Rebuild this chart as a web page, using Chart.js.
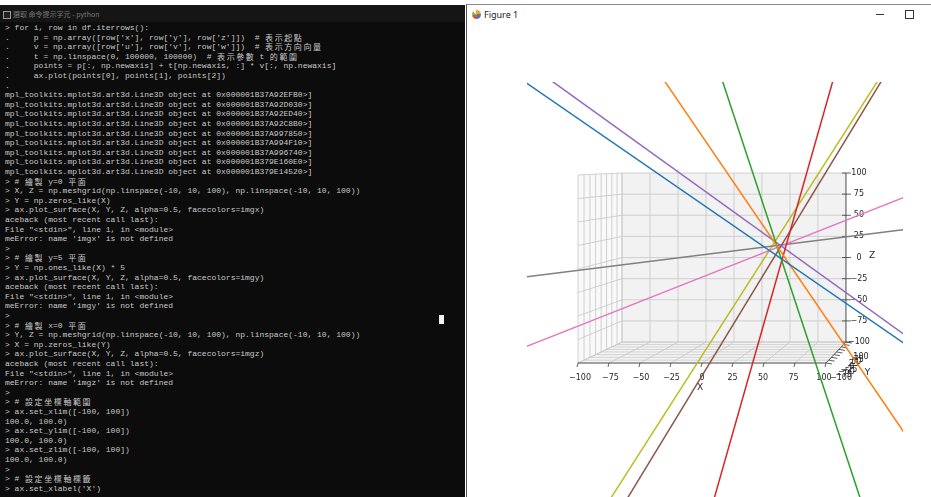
<!DOCTYPE html>
<html>
<head>
<meta charset="utf-8">
<script src="https://cdn.jsdelivr.net/npm/chart.js@4/dist/chart.umd.min.js"></script>
<style>
  html, body { margin: 0; padding: 0; }
  body { width: 931px; height: 497px; overflow: hidden; background: #ffffff; position: relative; }
  #term { position: absolute; left: 0; top: 5px; width: 465px; height: 492px; background: #0c0c0c; overflow: hidden; }
  #termTitle { position: absolute; left: 0; top: 0; width: 465px; height: 17px; background: #151515; }
  #termTitle .ico { position: absolute; left: 3px; top: 6px; width: 6px; height: 6px; border: 1px solid #9a9a9a; background: #222; }
  #termTitle .txt { position: absolute; left: 13px; top: 3px; font: 7px "Noto Sans CJK TC", "Noto Sans", sans-serif; color: #7a7a7a; white-space: pre; line-height: 12px; }
  #termText { position: absolute; left: 5px; top: 0; width: 460px; height: 492px; }
  #termText .ln { position: absolute; left: 0; height: 10px; overflow: visible; margin: 0;
                  font: 8px "Liberation Mono", "DejaVu Sans Mono", monospace; line-height: 10px; color: #c8c8c8; white-space: pre; }
  #termText .w { display: inline-block; width: 9.6px; height: 10px; line-height: 10px; vertical-align: top; text-align: center;
                 font-family: "Noto Sans CJK TC", sans-serif; font-size: 8px; }
  #cursor { position: absolute; left: 439px; top: 310px; width: 5px; height: 9px; background: #f2f2f2; }
  #fig { position: absolute; left: 466px; top: 4px; width: 465px; height: 493px; background: #ffffff; border-top: 1px solid #8a8a8a; border-left: 1px solid #555; }
  #figTitle { position: absolute; left: 17px; top: 3px; font: 9px "Noto Sans", "DejaVu Sans", sans-serif; color: #1a1a1a; }
  #figIcon { position: absolute; left: 5px; top: 5px; width: 9px; height: 9px; border-radius: 50%;
             background: conic-gradient(#f5a623 0 25%, #3a7bd5 25% 50%, #e94e3c 50% 70%, #7cc242 70% 85%, #eeeeee 85% 100%); }
  #figMin { position: absolute; left: 409px; top: 9px; width: 8px; height: 1px; background: #333; }
  #figMax { position: absolute; left: 438px; top: 5px; width: 7px; height: 7px; border: 1px solid #333; }
  #chartCanvas { position: absolute; left: 467px; top: 30px; }
</style>
</head>
<body>
<div id="term">
  <div id="termTitle"><div class="ico"></div><div class="txt">選取 命令提示字元 - python</div></div>
  <div id="termText"></div>
  <div id="cursor"></div>
</div>
<div id="fig">
  <div id="figIcon"></div>
  <div id="figTitle">Figure 1</div>
  <div id="figMin"></div>
  <div id="figMax"></div>
</div>
<canvas id="chartCanvas" width="464" height="467" style="width:464px;height:467px"></canvas>
<script>
// Line3D handles returned by ax.plot, one per plotted line
const lineIds = ['0x000001B37A92EFB0', '0x000001B37A92D030', '0x000001B37A92ED40',
                 '0x000001B37A92C8B0', '0x000001B37A997850', '0x000001B37A994F10',
                 '0x000001B37A996740', '0x000001B379E160E0', '0x000001B379E14520'];

// Projected end points of each line (view plane units: front face spans -100..100)
const startU = [-146.8, -33.5,   14.9,  106.9, -127.9,  147.7, -146.8, -146.8,  144.8];
const startW = [ 202.6, 206.4,  206.4,  206.4,  206.4,  206.4,  -85.2,   -9.3,  206.4];
const endU   = [ 167.7, 167.7,  129.4,    8.3,  167.7,  -63.5,  167.7,  167.7,  -77.1];
const endW   = [ -83.4, -183.1, -251.1, -251.1, -74.1, -251.1,   78.7,   42.6, -251.1];

// Axis ticks and labels (limits set to [-100, 100] on every axis)
const xTicks = [-100, -75, -50, -25, 0, 25, 50, 75, 100];
const yTicks = [-100, -75, -50, -25, 0, 25, 50, 75, 100];
const zTicks = [-100, -75, -50, -25, 0, 25, 50, 75, 100];
const axisTitles = ['X', 'Y', 'Z'];

// matplotlib default colour cycle
const palette = ['#1f77b4', '#ff7f0e', '#2ca02c', '#d62728', '#9467bd',
                 '#8c564b', '#e377c2', '#7f7f7f', '#bcbd22'];

// ---- console session text ----
const termLines = [
  "> for i, row in df.iterrows():",
  ".     p = np.array([row['x'], row['y'], row['z']])  # 表示起點",
  ".     v = np.array([row['u'], row['v'], row['w']])  # 表示方向向量",
  ".     t = np.linspace(0, 100000, 100000)  # 表示參數 t 的範圍",
  ".     points = p[:, np.newaxis] + t[np.newaxis, :] * v[:, np.newaxis]",
  ".     ax.plot(points[0], points[1], points[2])",
  ".",
  ...lineIds.map(id => "mpl_toolkits.mplot3d.art3d.Line3D object at " + id + ">]"),
  "> # 繪製 y=0 平面",
  "> X, Z = np.meshgrid(np.linspace(-10, 10, 100), np.linspace(-10, 10, 100))",
  "> Y = np.zeros_like(X)",
  "> ax.plot_surface(X, Y, Z, alpha=0.5, facecolors=imgx)",
  "aceback (most recent call last):",
  "File \"<stdin>\", line 1, in <module>",
  "meError: name 'imgx' is not defined",
  ">",
  "> # 繪製 y=5 平面",
  "> Y = np.ones_like(X) * 5",
  "> ax.plot_surface(X, Y, Z, alpha=0.5, facecolors=imgy)",
  "aceback (most recent call last):",
  "File \"<stdin>\", line 1, in <module>",
  "meError: name 'imgy' is not defined",
  ">",
  "> # 繪製 x=0 平面",
  "> Y, Z = np.meshgrid(np.linspace(-10, 10, 100), np.linspace(-10, 10, 100))",
  "> X = np.zeros_like(Y)",
  "> ax.plot_surface(X, Y, Z, alpha=0.5, facecolors=imgz)",
  "aceback (most recent call last):",
  "File \"<stdin>\", line 1, in <module>",
  "meError: name 'imgz' is not defined",
  ">",
  "> # 設定坐標軸範圍",
  "> ax.set_xlim([-100, 100])",
  "100.0, 100.0)",
  "> ax.set_ylim([-100, 100])",
  "100.0, 100.0)",
  "> ax.set_zlim([-100, 100])",
  "100.0, 100.0)",
  ">",
  "> # 設定坐標軸標籤",
  "> ax.set_xlabel('X')"
];

// one row per console line; wide (CJK) characters occupy two columns
const esc = s => s.replace(/&/g, '&amp;').replace(/</g, '&lt;').replace(/>/g, '&gt;');
const rowPitch = 9.6, firstRowTop = 18;
document.getElementById('termText').innerHTML = termLines.map((line, i) =>
  '<div class="ln" style="top:' + (firstRowTop + i * rowPitch).toFixed(2) + 'px">' +
  Array.from(line).map(ch => ch.charCodeAt(0) > 0x2e80 ? '<span class="w">' + ch + '</span>' : esc(ch)).join('') +
  '</div>'
).join('');

// ---- 3D axes box drawn through the chart's own scales ----
const box3d = {
  id: 'box3d',
  beforeDatasetsDraw(chart) {
    const { ctx } = chart;
    const sx = chart.scales.x, sy = chart.scales.y;
    const backRatio = 0.9;
    // perspective projection of a data point (x, y, z) onto the view plane
    const P = (x, y, z) => {
      const t = (y + 100) / 200;
      const a = 1 - t, b = t / backRatio;
      const u = (a * x + b * (25.8 + 0.903 * x)) / (a + b);
      const w = (a * z + b * (12.2 + 0.899 * z)) / (a + b);
      return [sx.getPixelForValue(u), sy.getPixelForValue(w)];
    };
    const poly = (pts, fill) => {
      ctx.beginPath();
      pts.forEach((p, i) => i ? ctx.lineTo(p[0], p[1]) : ctx.moveTo(p[0], p[1]));
      ctx.closePath();
      ctx.fillStyle = fill;
      ctx.fill();
    };
    const seg = (p, q) => { ctx.moveTo(p[0], p[1]); ctx.lineTo(q[0], q[1]); };

    ctx.save();
    // panes
    poly([P(-100, -100, -100), P(-100, 100, -100), P(-100, 100, 100), P(-100, -100, 100)], '#f9f9f9');
    poly([P(-100, 100, -100), P(100, 100, -100), P(100, 100, 100), P(-100, 100, 100)], '#f2f2f2');
    poly([P(-100, -100, -100), P(100, -100, -100), P(100, 100, -100), P(-100, 100, -100)], '#f5f5f5');

    // grid
    ctx.beginPath();
    ctx.strokeStyle = '#c6c6c6';
    ctx.lineWidth = 0.8;
    xTicks.forEach(x => { seg(P(x, 100, -100), P(x, 100, 100)); seg(P(x, -100, -100), P(x, 100, -100)); });
    zTicks.forEach(z => { seg(P(-100, 100, z), P(100, 100, z)); seg(P(-100, -100, z), P(-100, 100, z)); });
    yTicks.forEach(y => { seg(P(-100, y, -100), P(-100, y, 100)); seg(P(-100, y, -100), P(100, y, -100)); });
    ctx.stroke();

    // axis lines and tick marks
    ctx.beginPath();
    ctx.strokeStyle = '#3a3a3a';
    ctx.lineWidth = 0.8;
    seg(P(-100, -100, -100), P(100, -100, -100));
    seg(P(100, -100, -100), P(100, 100, -100));
    seg(P(100, 100, -100), P(100, 100, 100));
    xTicks.forEach(x => { const p = P(x, -100, -100); seg(p, [p[0] - 1, p[1] + 4]); });
    yTicks.forEach(y => { const p = P(100, y, -100); seg(p, [p[0] + 6, p[1] + 1]); });
    zTicks.forEach(z => { const p = P(100, 100, z); seg([p[0] - 4, p[1]], [p[0] + 5, p[1]]); });
    ctx.stroke();

    // tick labels
    const fmt = v => (v < 0 ? '\u2212' + (-v) : String(v));
    ctx.fillStyle = '#262626';
    ctx.font = '8px "DejaVu Sans"';
    ctx.textAlign = 'center';
    ctx.textBaseline = 'middle';
    xTicks.forEach(x => { const p = P(x, -100, -100); ctx.fillText(fmt(x), p[0] - 0.02 * x, p[1] + 15); });
    yTicks.forEach(y => { const p = P(100, y, -100); ctx.fillText(fmt(y), p[0] + 15, p[1] + 15); });
    zTicks.forEach(z => { const p = P(100, 100, z); ctx.fillText(fmt(z), p[0] + 13, p[1]); });

    // axis titles
    ctx.font = '9px "DejaVu Sans"';
    const xl = P(0, -100, -100), yl = P(100, 0, -100), zl = P(100, 100, 0);
    ctx.fillText(axisTitles[0], xl[0] - 2, xl[1] + 25);
    ctx.fillText(axisTitles[1], yl[0] + 31, yl[1] + 21);
    ctx.fillText(axisTitles[2], zl[0] + 26, zl[1] - 2);
    ctx.restore();
  }
};

new Chart(document.getElementById('chartCanvas'), {
  type: 'scatter',
  data: {
    datasets: lineIds.map((id, i) => ({
      label: id,
      data: [{ x: startU[i], y: startW[i] }, { x: endU[i], y: endW[i] }],
      showLine: true,
      borderColor: palette[i],
      backgroundColor: palette[i],
      borderWidth: 1.5,
      pointRadius: 0,
      clip: 0
    }))
  },
  options: {
    responsive: false,
    animation: false,
    events: [],
    layout: { padding: { left: 60, top: 52, right: 28, bottom: 0 } },
    plugins: { legend: { display: false }, tooltip: { enabled: false } },
    scales: {
      x: { type: 'linear', min: -141.13, max: 162.10, display: false },
      y: { type: 'linear', min: -242.55, max: 198.94, display: false }
    }
  },
  plugins: [box3d]
});
</script>
</body>
</html>
